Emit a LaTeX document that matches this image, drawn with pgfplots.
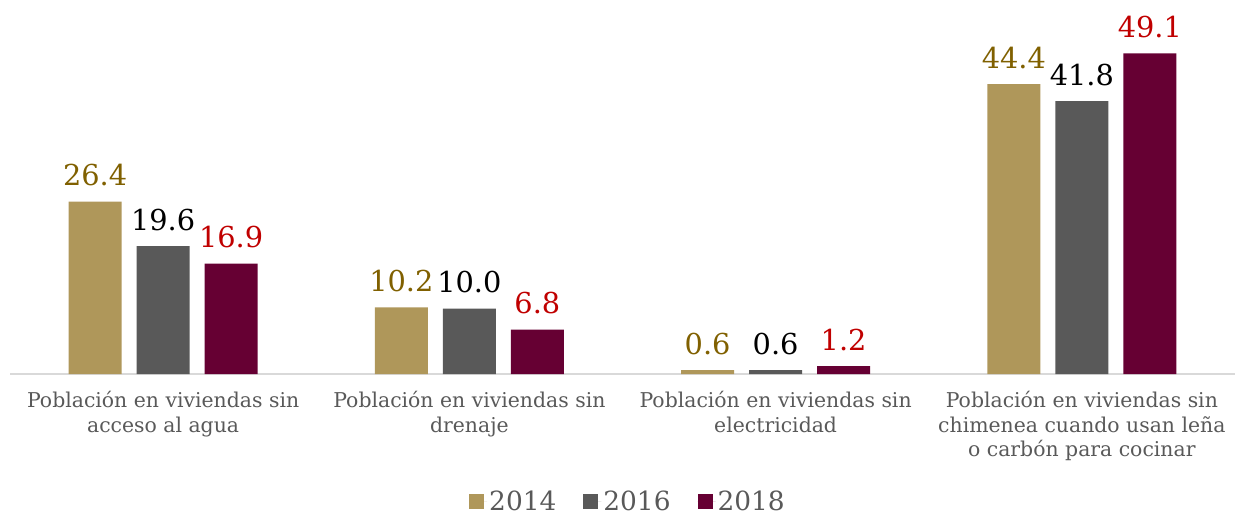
\documentclass[border=0pt]{standalone}
\usepackage{pgfplots}
\pgfplotsset{compat=1.18}
\usepackage{fontspec}
\setmainfont{DejaVu Serif}
\definecolor{c14}{RGB}{175,151,90}
\definecolor{c16}{RGB}{89,89,89}
\definecolor{c18}{RGB}{102,0,51}
\definecolor{t14}{RGB}{128,96,0}
\definecolor{t18}{RGB}{192,0,0}
\definecolor{tick}{RGB}{89,89,89}
\begin{document}
\begin{tikzpicture}
\useasboundingbox (0pt,0pt) rectangle (1235pt,515pt);
\begin{axis}[
  at={(10pt,141pt)}, anchor=south west,
  scale only axis, width=1225pt, height=374pt,
  ybar=15pt, bar width=53pt,
  xmin=-0.5, xmax=3.5, ymin=0, ymax=57.27,
  axis x line=bottom, axis y line=none,
  axis line style={-, draw=black!15, line width=1.5pt},
  xtick={0,1,2,3}, major tick length=0pt,
  xticklabels={{Población en viviendas sin\\acceso al agua},
               {Población en viviendas sin\\drenaje},
               {Población en viviendas sin\\electricidad},
               {Población en viviendas sin\\chimenea cuando usan leña\\o carbón para cocinar}},
  xticklabel style={align=center, text=tick, font=\fontsize{20.4}{24.5}\selectfont, yshift=-14pt},
  clip=false,
  point meta=explicit symbolic,
  nodes near coords,
  every node near coord/.append style={anchor=base, yshift=16pt, font=\fontsize{28.8}{34}\selectfont},
  legend columns=3,
  legend style={draw=none, at={(0.5045,-0.342)}, anchor=center, font=\fontsize{26.4}{30}\selectfont, text=tick,
    /tikz/every even column/.append style={column sep=25pt},
    /tikz/every odd column/.append style={column sep=0pt}},
  legend image code/.code={\path (0pt,0pt) -- (18pt,0pt); \fill[#1] (0pt,-7.5pt) rectangle (15pt,7.5pt);},
]
\addplot[fill=c14, draw=none, every node near coord/.append style={text=t14}] coordinates {(0,26.4)[26.4] (1,10.2)[10.2] (2,0.6)[0.6] (3,44.4)[44.4]};
\addplot[fill=c16, draw=none, every node near coord/.append style={text=black}] coordinates {(0,19.6)[19.6] (1,10.0)[10.0] (2,0.6)[0.6] (3,41.8)[41.8]};
\addplot[fill=c18, draw=none, every node near coord/.append style={text=t18}] coordinates {(0,16.9)[16.9] (1,6.8)[6.8] (2,1.2)[1.2] (3,49.1)[49.1]};
\legend{2014,2016,2018}
\end{axis}
\end{tikzpicture}
\end{document}
